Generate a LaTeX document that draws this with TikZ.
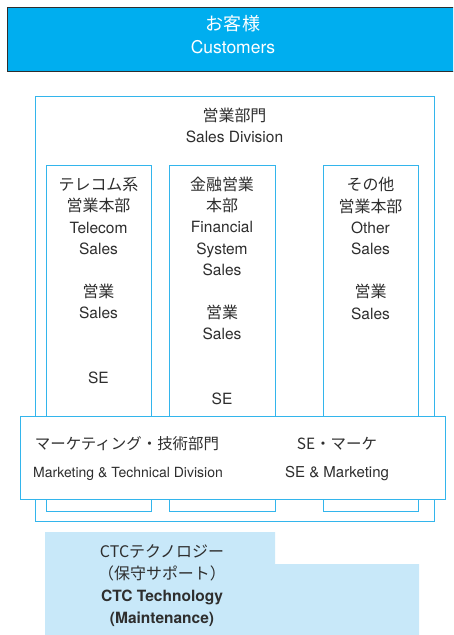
\documentclass[tikz,border=0pt]{standalone}
\usepackage{fontspec}
\setmainfont{TeX Gyre Heros}
\newfontfamily\jafont[Scale=1.03]{Noto Sans CJK JP}
\usepackage{tikz}
\usetikzlibrary{positioning}
\definecolor{custblue}{HTML}{00AEEF}
\definecolor{edgeblue}{HTML}{33B5EC}
\definecolor{ctcblue}{HTML}{C8E8F9}
\definecolor{inkgray}{HTML}{2E2E2E}
\tikzstyle{custbox}=[draw=inkgray,fill=custblue,line width=1.2pt,anchor=north west]
\tikzstyle{unit}=[draw=edgeblue,fill=white,line width=1.3pt,anchor=north west,inner sep=0pt]
\tikzstyle{txt}=[anchor=base,align=center,inner sep=0pt,text=inkgray,
                 font=\fontsize{15.5}{21.4}\selectfont]

\begin{document}
\begin{tikzpicture}[x=1pt,y=-1pt]
  \useasboundingbox (0,0) rectangle (453,635);
  \clip (0,0) rectangle (453,635);

  % customers (base = last line)
  \node[custbox,minimum width=460pt,minimum height=64pt] (cust) at (6.5,7) {};
  \node[txt,text=white,font=\fontsize{17.5}{23}\selectfont] (custtxt) at (233,53.5)
       {{\jafont お客様}\\Customers};

  % sales division and its three units
  \node[unit,minimum width=399pt,minimum height=425pt] (sales) at (35,96) {};
  \node[txt,font=\fontsize{15.5}{21}\selectfont] (salestxt) at (234.5,142)
       {{\jafont 営業部門}\\Sales Division};
  \node[unit,minimum width=105pt,minimum height=346pt] (telecom) at (46,165) {};
  \node[unit,minimum width=106pt,minimum height=346pt] (finance) at (169,165) {};
  \node[unit,minimum width=95pt,minimum height=346pt]  (other)   at (323,165) {};

  \node[txt] (telecomtxt) at (98.5,383)
       {{\jafont テレコム系}\\{\jafont 営業本部}\\Telecom\\Sales\\[21.4pt]%
        {\jafont 営業}\\Sales\\[42.8pt]SE};
  \node[txt] (financetxt) at (222,404)
       {{\jafont 金融営業}\\{\jafont 本部}\\Financial\\System\\Sales\\[21.4pt]%
        {\jafont 営業}\\Sales\\[42.8pt]SE};
  \node[txt] (othertxt) at (370.5,319)
       {{\jafont その他}\\{\jafont 営業本部}\\Other\\Sales\\[21.4pt]%
        {\jafont 営業}\\Sales};

  % marketing & technical division
  \node[unit,minimum width=425pt,minimum height=83pt] (mkt) at (20,416) {};
  \node[txt,font=\fontsize{15}{21}\selectfont] (mktja) at (127,449)
       {\jafont マーケティング・技術部門};
  \node[txt,font=\fontsize{14}{21}\selectfont] (mkten) at (128,477)
       {Marketing \& Technical Division};
  \node[txt,font=\fontsize{15}{21}\selectfont] (seja) at (337,449)
       {\jafont SE・マーケ};
  \node[txt,font=\fontsize{15}{21}\selectfont] (seen) at (337,477)
       {SE \& Marketing};

  % CTC technology
  \fill[ctcblue] (45,532) -- (275,532) -- (275,564) -- (419,564)
       -- (419,636) -- (45,636) -- cycle;
  \node[txt,font=\fontsize{15.5}{22}\selectfont] (ctctxt) at (162,623)
       {{\jafont CTCテクノロジー}\\{\jafont （保守サポート）}\\
        \bfseries CTC Technology\\\bfseries (Maintenance)};
\end{tikzpicture}
\end{document}
